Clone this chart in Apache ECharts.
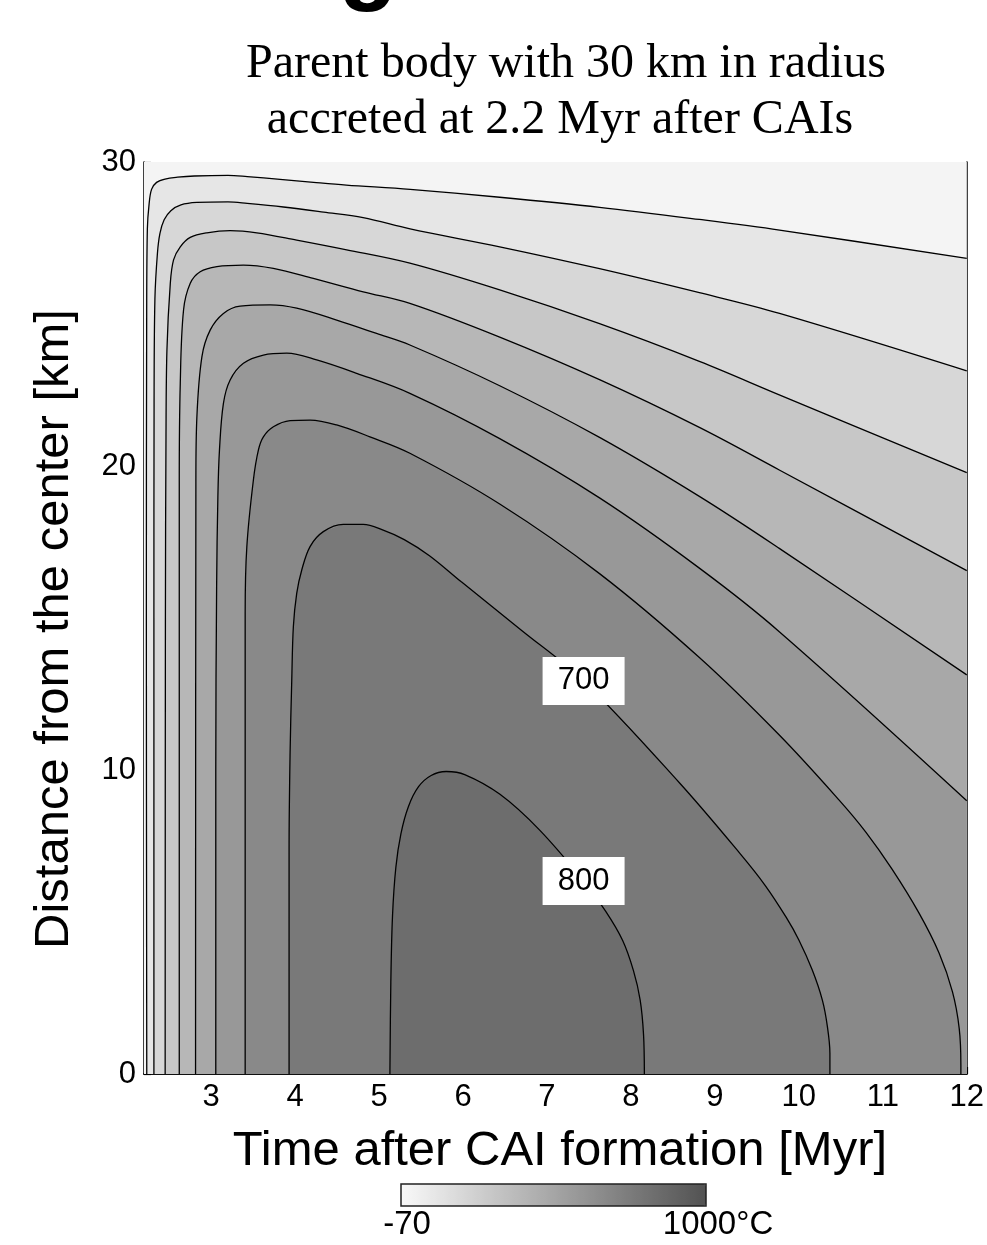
<!DOCTYPE html>
<html>
<head>
<meta charset="utf-8">
<title>Parent body temperature</title>
<style>
  html, body { margin: 0; padding: 0; background: #fff; }
  #chart { width: 987px; height: 1245px; }
</style>
</head>
<body>
<div id="chart"></div>
<script src="https://cdn.jsdelivr.net/npm/echarts@6/dist/echarts.min.js"></script>
<script>
// contour lines, [time after CAI (Myr), distance (km)]
var contour0 = [[2.233, 0], [2.228, 15], [2.232, 25], [2.24, 27.8], [2.26, 28.6], [2.29, 29.1], [2.35, 29.33],
  [2.45, 29.44], [2.6, 29.5], [2.8, 29.54], [3.2, 29.56], [3.43, 29.52], [3.82, 29.43], [4.22, 29.33],
  [4.61, 29.24], [5.37, 29.1], [6.437, 28.84], [7.626, 28.51], [8.815, 28.11], [9.77, 27.76], [12, 26.83]];
var contour100 = [[2.318, 0], [2.318, 15], [2.32, 22], [2.33, 25.5], [2.36, 27.0], [2.39, 27.65], [2.44, 28.1],
  [2.52, 28.4], [2.64, 28.59], [2.83, 28.67], [3.2, 28.69], [3.43, 28.64], [3.86, 28.52], [4.34, 28.35],
  [4.81, 28.17], [5.37, 27.8], [6.437, 27.21], [7.626, 26.49], [8.815, 25.7], [9.77, 25.02], [12, 23.13]];
var contour200 = [[2.452, 0], [2.455, 15], [2.462, 21], [2.473, 23.8], [2.513, 26.0], [2.552, 26.78], [2.632, 27.21],
  [2.751, 27.52], [2.949, 27.67], [3.226, 27.74], [3.544, 27.67], [4.019, 27.43], [4.614, 27.11],
  [5.367, 26.67], [6.437, 25.79], [7.626, 24.68], [8.815, 23.44], [9.767, 22.34], [12, 19.78]];
var contour300 = [[2.62, 0], [2.62, 19.5], [2.632, 22.72], [2.671, 25.13], [2.751, 26.01], [2.869, 26.39],
  [3.068, 26.56], [3.384, 26.61], [3.741, 26.5], [4.217, 26.17], [4.811, 25.73], [5.367, 25.35],
  [6.437, 24.24], [7.626, 22.84], [8.815, 21.27], [9.767, 19.87], [12, 16.56]];
var contour400 = [[2.814, 0], [2.818, 19.5], [2.83, 21.62], [2.89, 23.6], [2.988, 24.47], [3.146, 25.02],
  [3.345, 25.26], [3.702, 25.3], [4.019, 25.19], [4.495, 24.8], [4.97, 24.36], [5.367, 23.98],
  [6.437, 22.64], [7.626, 20.94], [8.815, 19.0], [9.767, 17.29], [12, 13.13]];
var contour500 = [[3.055, 0], [3.055, 10], [3.065, 16], [3.08, 19], [3.099, 20.53], [3.146, 22.06], [3.226, 22.83],
  [3.384, 23.38], [3.622, 23.65], [3.9, 23.71], [4.257, 23.49], [4.733, 23.05], [5.367, 22.39],
  [6.437, 20.9], [7.626, 18.95], [8.815, 16.64], [9.767, 14.55], [12, 8.99]];
var contour600 = [[3.405, 0], [3.405, 15.16], [3.425, 17.35], [3.503, 19.54], [3.563, 20.53], [3.622, 20.96],
  [3.741, 21.29], [3.94, 21.49], [4.178, 21.51], [4.495, 21.35], [4.891, 20.96], [5.367, 20.42],
  [6.437, 18.75], [7.626, 16.46], [8.815, 13.7], [9.767, 11.15], [10.48, 9.01], [10.8, 7.95], [11.11, 6.74],
  [11.43, 5.3], [11.67, 3.98], [11.83, 2.7], [11.91, 1.5], [11.93, 0.3], [11.93, 0]];
var contour700 = [[3.928, 0], [3.928, 7.37], [3.94, 10.55], [3.96, 12.96], [3.979, 14.71], [4.019, 15.81],
  [4.079, 16.58], [4.178, 17.35], [4.336, 17.84], [4.573, 18.08], [4.811, 18.08], [5.049, 17.89],
  [5.3, 17.58], [5.6, 17.05], [5.98, 16.19], [6.695, 14.6], [7.436, 12.93], [8.577, 9.58], [9.3, 7.25],
  [9.6, 6.2], [9.85, 5.15], [10.0, 4.41], [10.16, 3.42], [10.28, 2.43], [10.34, 1.56], [10.37, 0.68], [10.37, 0]];
var contour800 = [[5.129, 0], [5.14, 3.0], [5.16, 5.2], [5.2, 6.8], [5.26, 7.9], [5.35, 8.8], [5.47, 9.45],
  [5.62, 9.82], [5.8, 9.95], [6.02, 9.85], [6.44, 9.2], [6.91, 8.03], [7.436, 6.35], [7.7, 5.35],
  [7.9, 4.4], [8.03, 3.4], [8.11, 2.43], [8.15, 1.3], [8.16, 0]];

var levels = [0, 100, 200, 300, 400, 500, 600, 700, 800];
var contours = [contour0, contour100, contour200, contour300, contour400, contour500, contour600, contour700, contour800];
// temperature used to shade the area above each contour (first one is the whole body)
var bandTemps = [-35, 50, 150, 250, 350, 450, 550, 650, 750, 825];
var labelPoints = [[7.436, 12.93, '700'], [7.436, 6.35, '800']];
var timeRange = [2.2, 12];
var distRange = [0, 30];
var tempRange = [-70, 1000];
var tempTicks = ['-70', '1000°C'];

var sans = '"Liberation Sans", Arial, sans-serif';
var serif = '"Liberation Serif", "Times New Roman", serif';

// polygons: region warmer than each contour, closed along the right / bottom edge
var bandShapes = [[[timeRange[0], distRange[0]], [timeRange[0], distRange[1]], [timeRange[1], distRange[1]], [timeRange[1], distRange[0]]]];
contours.forEach(function (c) {
  var poly = c.slice();
  if (c[c.length - 1][1] > 0) poly.push([timeRange[1], 0]);
  bandShapes.push(poly);
});

var chart = echarts.init(document.getElementById('chart'));

var series = [{
  type: 'custom',
  silent: true,
  clip: true,
  z: 1,
  data: bandTemps.map(function (t, i) { return [i, t]; }),
  renderItem: function (params, api) {
    var pts = bandShapes[params.dataIndex].map(function (p) { return api.coord(p); });
    return { type: 'polygon', shape: { points: pts }, style: { fill: api.visual('color') } };
  }
}];

contours.forEach(function (c, i) {
  series.push({
    type: 'line',
    name: String(levels[i]),
    data: c,
    showSymbol: false,
    smooth: 0.35,
    silent: true,
    z: 3,
    lineStyle: { color: '#000', width: 1.3 }
  });
});

// white boxes holding the contour labels
series.push({
  type: 'scatter',
  data: labelPoints,
  symbol: 'rect',
  symbolSize: [82, 48],
  silent: true,
  z: 5,
  itemStyle: { color: '#fff', opacity: 1 },
  label: {
    show: true,
    position: 'inside',
    formatter: function (p) { return p.value[2]; },
    fontSize: 31,
    fontFamily: sans,
    color: '#000'
  }
});

var option = {
  backgroundColor: '#fff',
  animation: false,
  grid: { left: 144, right: 19, top: 162, bottom: 171 },
  xAxis: [{
    type: 'value', min: timeRange[0], max: timeRange[1], splitNumber: 10,
    name: 'Time after CAI formation [Myr]', nameLocation: 'middle', nameGap: 53,
    nameTextStyle: { fontSize: 49, color: '#000', fontFamily: sans, padding: [0, 0, 0, 9] },
    axisLine: { lineStyle: { color: '#000', width: 1.5 } },
    axisTick: { inside: true, length: 7, lineStyle: { color: '#000', width: 1.2 } },
    axisLabel: { fontSize: 31, color: '#000', margin: 8, showMinLabel: false, fontFamily: sans },
    splitLine: { show: false }
  }, {
    type: 'value', position: 'top', min: timeRange[0], max: timeRange[1],
    axisLine: { show: true, lineStyle: { color: '#000', width: 1.5 } },
    axisTick: { show: false }, axisLabel: { show: false }, splitLine: { show: false }
  }],
  yAxis: [{
    type: 'value', min: distRange[0], max: distRange[1], interval: 10,
    name: 'Distance from the center [km]', nameLocation: 'middle', nameGap: 65,
    nameTextStyle: { fontSize: 49, color: '#000', fontFamily: sans, padding: [0, 22, 0, 0] },
    axisLine: { show: true, lineStyle: { color: '#000', width: 1.5 } },
    axisTick: { show: true, inside: true, length: 7, lineStyle: { color: '#000', width: 1.2 } },
    axisLabel: { fontSize: 31, color: '#000', margin: 8, fontFamily: sans },
    splitLine: { show: false }
  }, {
    type: 'value', position: 'right', min: distRange[0], max: distRange[1],
    axisLine: { show: true, lineStyle: { color: '#000', width: 1.5 } },
    axisTick: { show: false }, axisLabel: { show: false }, splitLine: { show: false }
  }],
  visualMap: {
    type: 'continuous',
    min: tempRange[0], max: tempRange[1],
    seriesIndex: 0, dimension: 1,
    orient: 'horizontal',
    left: 401, top: 1184,
    itemWidth: 22, itemHeight: 305,
    padding: 0,
    calculable: false,
    inRange: { color: ['#f9f9f9', '#525252'] }
  },
  graphic: [
    { type: 'text', x: 368, y: -34, z: 10,
      style: { text: 'g', fontSize: 96, fontWeight: 'bold', fontFamily: sans, fill: '#000', align: 'center', verticalAlign: 'middle' } },
    { type: 'text', x: 566, y: 64, z: 10,
      style: { text: 'Parent body with 30 km in radius', fontSize: 48, fontFamily: serif, fill: '#000', align: 'center', verticalAlign: 'middle' } },
    { type: 'text', x: 560, y: 120, z: 10,
      style: { text: 'accreted at 2.2 Myr after CAIs', fontSize: 48, fontFamily: serif, fill: '#000', align: 'center', verticalAlign: 'middle' } },
    { type: 'rect', z: 10, shape: { x: 401, y: 1184, width: 305, height: 22 },
      style: { fill: null, stroke: '#222', lineWidth: 1.5 } },
    { type: 'text', x: 407, y: 1208, z: 10,
      style: { text: tempTicks[0], fontSize: 33, fontFamily: sans, fill: '#000', align: 'center', verticalAlign: 'top' } },
    { type: 'text', x: 718, y: 1208, z: 10,
      style: { text: tempTicks[1], fontSize: 33, fontFamily: sans, fill: '#000', align: 'center', verticalAlign: 'top' } }
  ],
  series: series
};

chart.setOption(option);
</script>
</body>
</html>
